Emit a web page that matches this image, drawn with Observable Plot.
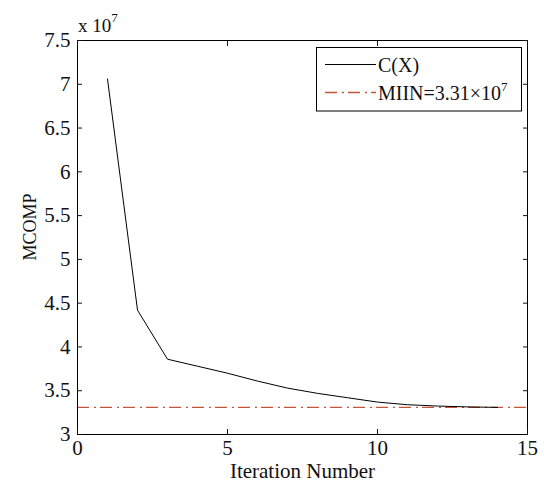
<!DOCTYPE html>
<html>
<head>
<meta charset="utf-8">
<script src="https://cdn.jsdelivr.net/npm/d3@7"></script>
<script src="https://cdn.jsdelivr.net/npm/@observablehq/plot@0.6"></script>
<style>
  html, body { margin: 0; padding: 0; background: #fff; }
  svg { display: block; }
</style>
</head>
<body>
<div id="chart"></div>
<script>
// Data (MCOMP in units of 10^7)
const iterations = [1, 2, 3, 4, 5, 6, 7, 8, 9, 10, 11, 12, 13, 14];
const mcomp = [7.06, 4.42, 3.86, 3.78, 3.70, 3.61, 3.53, 3.47, 3.42, 3.37, 3.34, 3.325, 3.315, 3.31];
const miin = 3.31;
const xTicks = [0, 5, 10, 15];
const yTicks = [3, 3.5, 4, 4.5, 5, 5.5, 6, 6.5, 7, 7.5];
const legendLabels = ["C(X)", "MIIN=3.31×10"];
const xLabel = "Iteration Number";
const yLabel = "MCOMP";

const data = iterations.map((x, i) => ({x, y: mcomp[i]}));

const W = 544, H = 486;
const FONT = "Liberation Serif, Times New Roman, serif";
const FS = 21;
const dashColor = "#c4553a";
const dash = "12,5,2,4";

const plot = Plot.plot({
  width: W,
  height: H,
  marginLeft: 77,
  marginRight: 17,
  marginTop: 40,
  marginBottom: 52,
  style: {fontFamily: FONT, fontSize: FS + "px", color: "#111", background: "#fff"},
  x: {domain: [0, 15], ticks: xTicks},
  y: {domain: [3, 7.5], ticks: yTicks},
  marks: [
    Plot.ruleY([miin], {stroke: dashColor, strokeWidth: 1.3, strokeDasharray: dash}),
    Plot.line(data, {x: "x", y: "y", stroke: "#000", strokeWidth: 1}),
    Plot.frame({stroke: "#000", strokeWidth: 1}),
    // inward ticks on all four sides
    Plot.axisX({anchor: "bottom", ticks: xTicks, tickSize: 5, dy: -5, text: null, label: null}),
    Plot.axisX({anchor: "top", ticks: xTicks, tickSize: 5, dy: 5, text: null, label: null}),
    Plot.axisY({anchor: "left", ticks: yTicks, tickSize: 5, dx: 5, text: null, label: null}),
    Plot.axisY({anchor: "right", ticks: yTicks, tickSize: 5, dx: -5, text: null, label: null}),
    // tick labels
    Plot.axisX({anchor: "bottom", ticks: xTicks, tickSize: 0, tickPadding: 6, label: xLabel, labelAnchor: "center", labelArrow: "none", labelOffset: 43, fontSize: FS}),
    Plot.axisY({anchor: "left", ticks: yTicks, tickSize: 0, tickPadding: 7, tickFormat: d => String(d), label: null, fontSize: FS})
  ]
});

document.getElementById("chart").appendChild(plot);

const svg = d3.select(plot);

// y-axis title
svg.append("text")
  .attr("transform", "translate(36,227) rotate(-90)")
  .attr("text-anchor", "middle")
  .attr("font-family", FONT).attr("font-size", 18).attr("fill", "#111")
  .text(yLabel);

// exponent label
const ex = svg.append("text")
  .attr("x", 78).attr("y", 32)
  .attr("text-anchor", "start")
  .attr("font-family", FONT).attr("font-size", 19).attr("fill", "#111");
ex.append("tspan").text("x 10");
ex.append("tspan").attr("font-size", 13).attr("dy", -10).text("7");

// legend
const lg = svg.append("g").attr("text-anchor", "start");
lg.append("rect").attr("x", 316.5).attr("y", 47.5).attr("width", 205).attr("height", 63.5)
  .attr("fill", "#fff").attr("stroke", "#000").attr("stroke-width", 1);
lg.append("line").attr("x1", 325).attr("x2", 376).attr("y1", 64.5).attr("y2", 64.5)
  .attr("stroke", "#000").attr("stroke-width", 1);
lg.append("line").attr("x1", 325).attr("x2", 376).attr("y1", 92.5).attr("y2", 92.5)
  .attr("stroke", dashColor).attr("stroke-width", 1.3).attr("stroke-dasharray", dash);
lg.append("text").attr("x", 378).attr("y", 64.5).attr("dy", "0.35em")
  .attr("font-family", FONT).attr("font-size", 20).attr("fill", "#111").text(legendLabels[0]);
const t2 = lg.append("text").attr("x", 378).attr("y", 92.5).attr("dy", "0.35em")
  .attr("font-family", FONT).attr("font-size", 20).attr("fill", "#111");
t2.append("tspan").text(legendLabels[1]);
t2.append("tspan").attr("font-size", 13).attr("dy", -9).text("7");
</script>
</body>
</html>
